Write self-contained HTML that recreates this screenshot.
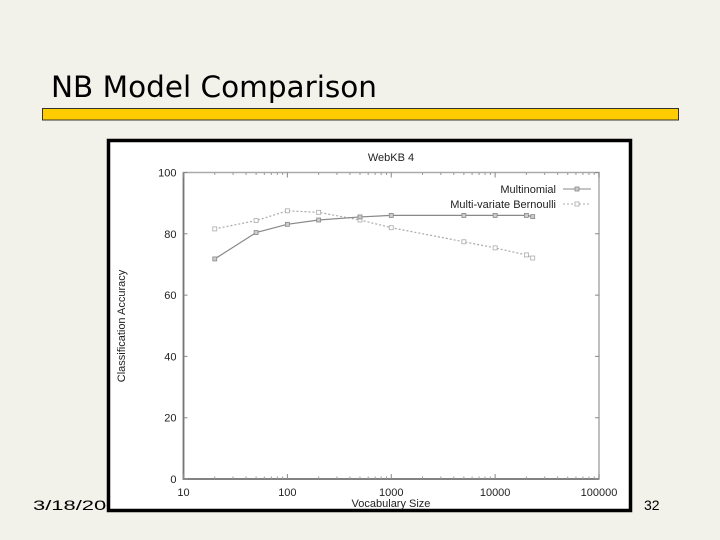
<!DOCTYPE html>
<html><head><meta charset="utf-8"><style>
html,body{margin:0;padding:0;background:#f2f1ea;}
svg{display:block;font-family:"Liberation Sans",sans-serif;}
</style></head><body>
<svg id="s" width="720" height="540" viewBox="0 0 720 540">
<rect x="0" y="0" width="720" height="540" fill="#f2f1ea"/>
<text x="51" y="97" font-size="29" textLength="326" lengthAdjust="spacingAndGlyphs" fill="#000" font-family="DejaVu Sans, Liberation Sans, sans-serif">NB Model Comparison</text>
<rect x="42.5" y="108.5" width="636" height="11.5" fill="#ffcc00" stroke="#333" stroke-width="1"/>
<text x="33" y="510" font-size="14" textLength="96" lengthAdjust="spacingAndGlyphs" fill="#000">3/18/2011</text>
<rect x="108.5" y="140.5" width="522" height="370" fill="#fff" stroke="#000" stroke-width="3.5"/>
<text x="644" y="510" font-size="14" fill="#000">32</text>
<g id="chart"></g>
</svg>
<script>
const xTicks=[10,100,1000,10000,100000];
const yTicks=[0,20,40,60,80,100];
const vocab=[20,50,100,200,500,1000,5000,10000,20000,23000];
const multinomial=[71.8,80.4,83.1,84.5,85.5,86.0,86.0,86.0,86.0,85.6];
const bernoulli=[81.6,84.3,87.5,87.0,84.5,82.0,77.4,75.4,73.1,72.1];
const NS='http://www.w3.org/2000/svg';
const g=document.getElementById('chart');
const L=183.5,R=599,T=172.5,B=479;
function xs(v){return L+(Math.log10(v)-1)/4*(R-L);}
function ys(v){return B-v/100*(B-T);}
function mk(t,a,p){const e=document.createElementNS(NS,t);for(const k in a)e.setAttribute(k,a[k]);(p||g).appendChild(e);return e;}
let e;
e=mk('rect',{x:L,y:T,width:R-L,height:B-T,fill:'none',stroke:'#aaa','stroke-width':1.5});


e=mk('path',{d:`M${L},${T}V${B}H${R}`,fill:'none',stroke:'#777','stroke-width':1.8});


yTicks.forEach(v=>{
 const y=ys(v);
 e=mk('path',{d:`M${L},${y}h4M${R},${y}h-4`,stroke:'#888','stroke-width':1});
 
 
 e=mk('text',{x:L-7,y:y+4,'font-size':11,'text-anchor':'end',fill:'#222'});
 e.textContent=v;
 
 
});
xTicks.forEach((v,i)=>{
 const x=xs(v);
 e=mk('path',{d:`M${x},${B}v-5M${x},${T}v5`,stroke:'#888','stroke-width':1});
 
 
 e=mk('text',{x:x,y:B+17,'font-size':11,'text-anchor':'middle',fill:'#222'});
 e.textContent=v;
 
 
 if(i<xTicks.length-1){for(let m=2;m<10;m++){const xm=xs(v*m);
  e=mk('path',{d:`M${xm},${B}v-2.5M${xm},${T}v2.5`,stroke:'#999','stroke-width':1});
  
  }}
});
e=mk('text',{x:391,y:161,'font-size':11,'text-anchor':'middle',fill:'#222'});
e.textContent='WebKB 4';


e=mk('text',{x:391,y:507,'font-size':11,'text-anchor':'middle',fill:'#222'});
e.textContent='Vocabulary Size';


e=mk('text',{x:0,y:0,'font-size':11,'text-anchor':'middle',fill:'#222',transform:'translate(125,326) rotate(-90)'});
e.textContent='Classification Accuracy';


function series(vals,name,dash,col,sq){
 const pts=vocab.map((v,i)=>xs(v)+','+ys(vals[i])).join(' ');
 e=mk('polyline',{points:pts,fill:'none',stroke:col,'stroke-width':1.2,'stroke-dasharray':dash});
 
 
 vocab.forEach((v,i)=>{
  e=mk('rect',{x:xs(v)-2,y:ys(vals[i])-2,width:4,height:4,fill:sq?'#fff':'#ccc',stroke:col,'stroke-width':0.8});
  
  
 });
}
series(bernoulli,'bernoulli','2,2','#aaa',true);
series(multinomial,'multinomial','none','#888',false);
[['Multinomial','none','#888',190,false],['Multi-variate Bernoulli','2,2','#aaa',205,true]].forEach(l=>{
 e=mk('text',{x:556,y:l[3]+3,'font-size':11,'text-anchor':'end',fill:'#222'});
 e.textContent=l[0];
 
 
 e=mk('path',{d:`M563,${l[3]-1}H591`,stroke:l[2],'stroke-width':1,'stroke-dasharray':l[1]});
 
 
 e=mk('rect',{x:575,y:l[3]-3,width:4,height:4,fill:l[4]?'#fff':'#ccc',stroke:l[2],'stroke-width':0.8});
 
 
});
</script>
</body></html>
